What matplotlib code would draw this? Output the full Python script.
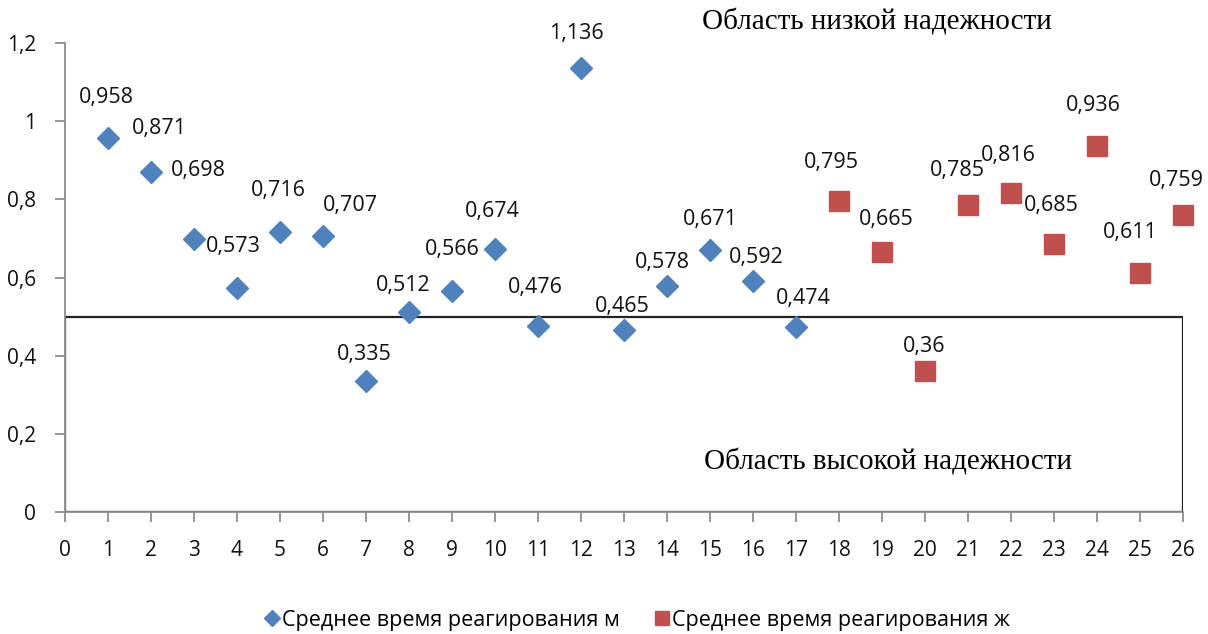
import matplotlib
matplotlib.use("Agg")

import matplotlib.pyplot as plt
from matplotlib.patches import Rectangle

# среднее время реагирования, мужчины (1-17) и женщины (18-26)
nomera_m = list(range(1, 18))
vremya_m = [0.958, 0.871, 0.698, 0.573, 0.716, 0.707, 0.335, 0.512, 0.566,
            0.674, 0.476, 1.136, 0.465, 0.578, 0.671, 0.592, 0.474]
nomera_zh = list(range(18, 27))
vremya_zh = [0.795, 0.665, 0.36, 0.785, 0.816, 0.685, 0.936, 0.611, 0.759]

porog = 0.5

# сдвиги подписей (пиксели) относительно точек
sdvig_m = [(-2, 40), (8, 43), (4, 69), (-4, 42), (-2, 42), (27, 30), (-2, 27),
           (-6, 26), (0, 41), (-3, 37), (-3, 38), (-5, 35), (-2, 24), (-5, 24),
           (0, 30), (3, 23), (7, 28)]
sdvig_zh = [(-8, 39), (4, 33), (-1, 25), (-11, 35), (-3, 38), (-3, 39),
            (-4, 41), (-10, 41), (-7, 35)]

sinij = "#4F81BD"
krasnyj = "#C0504D"
shrift = "Open Sans"

fig = plt.figure(figsize=(12.08, 6.34), dpi=100)
ax = fig.add_axes([0.0538, 0.1924, 0.9255, 0.7398])

ax.add_patch(Rectangle((0, 0), 26, porog, fill=False, edgecolor="#222222",
                       linewidth=1.6, zorder=1))

ax.plot(nomera_m, vremya_m, linestyle="none", marker="D", markersize=11,
        color=sinij, label="Среднее время реагирования м", zorder=3, clip_on=False)
ax.plot(nomera_zh, vremya_zh, linestyle="none", marker="s", markersize=14,
        color=krasnyj, label="Среднее время реагирования ж", zorder=3, clip_on=False)

def podpis(v):
    return f"{v:g}".replace(".", ",")

for xs, ys, sd in [(nomera_m, vremya_m, sdvig_m), (nomera_zh, vremya_zh, sdvig_zh)]:
    for x, y, (dx, dy) in zip(xs, ys, sd):
        ax.annotate(podpis(y), (x, y), xytext=(dx * 0.72, dy * 0.72),
                    textcoords="offset points", ha="center", va="center",
                    fontsize=15.5, family=shrift, color="#111111")

ax.text(0.726, 1.045, "Область низкой надежности", transform=ax.transAxes,
        ha="center", va="center", family="Liberation Serif", fontsize=21)
ax.text(0.736, 0.107, "Область высокой надежности", transform=ax.transAxes,
        ha="center", va="center", family="Liberation Serif", fontsize=21)

ax.set_xlim(0, 26)
ax.set_ylim(0, 1.2)
ax.set_xticks(range(0, 27))
ax.set_yticks([0, 0.2, 0.4, 0.6, 0.8, 1.0, 1.2])
ax.set_yticklabels([podpis(round(t, 1)) for t in [0, 0.2, 0.4, 0.6, 0.8, 1.0, 1.2]])
for lbl in ax.get_xticklabels() + ax.get_yticklabels():
    lbl.set_family(shrift)
    lbl.set_fontsize(15)

for side in ["top", "right"]:
    ax.spines[side].set_visible(False)
for side in ["left", "bottom"]:
    ax.spines[side].set_color("#8C8C8C")
    ax.spines[side].set_linewidth(1.3)
ax.tick_params(axis="both", color="#8C8C8C", width=1.3, length=7,
               labelcolor="#111111")
ax.tick_params(axis="x", pad=13)
ax.tick_params(axis="y", pad=14)

leg = fig.legend(loc="center", bbox_to_anchor=(0.527, 0.022), ncol=2, frameon=False,
                 prop={"family": shrift, "size": 15.5}, handletextpad=0.05,
                 columnspacing=1.6, handlelength=0.8, markerscale=0.75)

fig.savefig("out.png", dpi=100)
